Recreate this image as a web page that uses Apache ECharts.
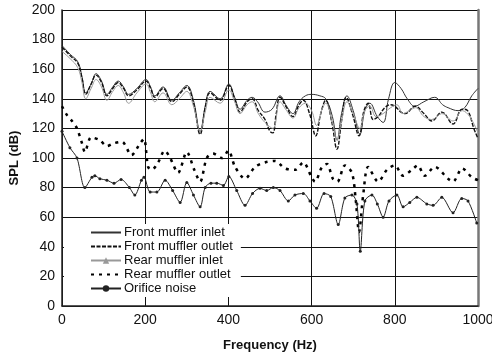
<!DOCTYPE html>
<html>
<head>
<meta charset="utf-8">
<script src="https://cdn.jsdelivr.net/npm/echarts@6/dist/echarts.min.js"></script>
<style>
  html, body { margin: 0; padding: 0; background: #fff; }
  #chart { width: 492px; height: 353px; }
</style>
</head>
<body>
<div id="chart"></div>
<script>
// [frequency (Hz), SPL (dB)]
const frontInlet = [[0,176],[20,170],[38,165],[48,155],[57,144],[70,150],[82,157],[95,152],[108,143],[122,148],[135,152],[148,148],[160,143],[180,147],[202,153],[213,148],[223,142],[243,148],[264,139],[282,144],[300,149],[316,139],[332,118],[345,136],[356,145],[380,140],[401,150],[415,141],[428,133],[445,139],[457,141],[470,138],[488,131],[505,133],[524,142],[540,135],[555,130],[570,138],[585,142],[600,143],[620,142],[634,140],[650,128],[661,112],[672,130],[685,142],[700,132],[716,116],[728,132],[740,137],[758,128],[772,124],[785,140],[800,151],[815,147],[830,140],[848,135],[870,138],[896,141],[915,136],[928,134],[952,132],[968,134],[985,142],[1000,147]]
const frontOutlet = [[0,175],[20,169],[38,164],[48,154],[57,143],[70,150],[82,156],[95,151],[108,142],[122,147],[135,151],[148,147],[160,142],[180,146],[202,152],[213,147],[223,141],[243,147],[264,138],[282,143],[300,148],[316,137],[332,116],[345,135],[356,144],[380,139],[401,149],[415,140],[428,131],[445,138],[457,140],[472,132],[488,126],[500,118],[507,117],[515,130],[524,141],[540,134],[555,128],[570,136],[580,139],[595,130],[610,115],[622,130],[634,139],[648,125],[661,106],[672,125],[683,141],[698,130],[714,115],[726,132],[736,137],[748,126],[760,128],[776,134],[790,136],[800,135],[815,131],[825,130],[849,135],[870,130],[889,125],[913,131],[940,123],[962,133],[975,132],[990,120],[1000,113]]
const rearInlet = [[0,172],[20,167],[38,161],[48,151],[57,140],[70,147],[82,153],[95,148],[108,139],[122,145],[135,149],[148,144],[160,137],[180,144],[202,150],[213,144],[223,138],[243,144],[264,136],[282,140],[300,145],[316,135],[332,118],[345,132],[356,141],[380,137],[401,146],[415,138],[428,130],[445,136],[457,138],[472,130],[488,124],[507,120],[524,138],[540,132],[555,127],[570,134],[585,137],[600,132],[612,122],[624,132],[634,137],[650,124],[661,112],[672,125],[685,138],[700,130],[716,120],[728,132],[740,135],[755,128],[772,130],[790,134],[805,136],[820,130],[835,132],[850,134],[870,128],[889,126],[913,130],[940,125],[962,132],[980,128],[1000,117]]
const rearOutlet = [[0,135],[12,129],[24,125],[36,120],[48,110],[55,104],[70,114],[91,112],[108,108],[125,110],[144,111],[167,102],[188,110],[197,113],[207,94],[216,92],[231,97],[247,105],[260,100],[279,90],[300,104],[318,92],[332,84],[348,100],[363,103],[385,100],[400,105],[416,94],[440,86],[464,94],[488,97],[512,98],[536,93],[560,92],[580,97],[600,87],[608,84],[625,94],[637,96],[651,86],[662,84],[680,95],[697,90],[706,72],[714,50],[724,75],[736,94],[760,84],[781,92],[800,95],[820,88],[841,92],[855,95],[872,88],[896,94],[928,86],[940,84],[962,93],[985,87],[1000,85]]
const orificeNoise = [[0,118],[19,107],[36,100],[55,80],[72,87],[79,88],[91,86],[108,85],[125,83],[142,85.5],[162,80],[175,75],[191,85],[197,87],[212,77],[228,77],[248,85],[266,78],[284,70],[300,83.5],[316,75],[332,67],[344,80],[358,83],[372,83],[388,81.5],[401,87.5],[420,78],[440,68],[458,76],[476,79.5],[492,78],[508,80],[524,78],[544,71],[560,75],[580,76],[596,71],[612,66],[630,76],[646,74],[664,55],[680,73],[697,75],[709,69],[717,37],[728,71],[745,75],[758,69],[772,60],[786,71],[805,75],[820,67],[836,70],[853,73.4],[877,69],[892,68],[913,73.4],[940,63],[961,72.7],[976,71],[997,56]]

const seriesNames = ['Front muffler inlet', 'Front muffler outlet', 'Rear muffler inlet', 'Rear muffler outlet', 'Orifice noise']

const font = 'Liberation Sans, Arial, sans-serif'
const chart = echarts.init(document.getElementById('chart'))

const line = (name, data, lineStyle, extra = {}) => ({
  name,
  type: 'line',
  data,
  smooth: 0.4,
  symbol: 'none',
  lineStyle,
  itemStyle: { color: lineStyle.color },
  z: 3,
  ...extra,
})

const noMark = { opacity: 0 }

chart.setOption({
  animation: false,
  grid: { left: 62, right: 14, top: 10, bottom: 47, outerBoundsMode: 'none', containLabel: false },
  legend: {
    orient: 'vertical',
    left: 64,
    top: 224,
    padding: [2, 8, 2, 26],
    itemGap: 1,
    itemWidth: 30,
    itemHeight: 8,
    backgroundColor: '#fff',
    data: [
      { name: seriesNames[0], itemStyle: noMark },
      { name: seriesNames[1], itemStyle: noMark },
      { name: seriesNames[2] },
      { name: seriesNames[3], itemStyle: noMark },
      { name: seriesNames[4] },
    ],
    textStyle: { fontFamily: font, fontSize: 13, color: '#111', padding: [0, 0, 0, -2] },
    z: 5,
  },
  xAxis: {
    type: 'value',
    min: 0,
    max: 1000,
    interval: 200,
    name: 'Frequency (Hz)',
    nameLocation: 'middle',
    nameGap: 33,
    nameTextStyle: { fontFamily: font, fontSize: 13, fontWeight: 'bold', color: '#111' },
    axisLine: { lineStyle: { color: '#222', width: 1.5 } },
    axisTick: { show: false },
    axisLabel: { fontFamily: font, fontSize: 14, color: '#111', margin: 7, formatter: (v) => String(v) },
    splitLine: { lineStyle: { color: '#111', width: 1 } },
  },
  yAxis: [
    {
      type: 'value',
      min: 0,
      max: 200,
      interval: 20,
      name: 'SPL (dB)',
      nameLocation: 'middle',
      nameGap: 40,
      nameTextStyle: { fontFamily: font, fontSize: 13, fontWeight: 'bold', color: '#111' },
      axisLine: { show: true, lineStyle: { color: '#222', width: 1.5 } },
      axisTick: { show: false },
      axisLabel: { fontFamily: font, fontSize: 14, color: '#111', margin: 7 },
      splitLine: { lineStyle: { color: '#111', width: 1 } },
    },
    {
      type: 'value',
      min: 0,
      max: 200,
      interval: 20,
      position: 'right',
      axisLine: { show: true, lineStyle: { color: '#777', width: 2.5 } },
      axisTick: { show: false },
      axisLabel: { show: false },
      splitLine: { show: false },
    },
  ],
  series: [
    line(seriesNames[0], frontInlet, { color: '#333', width: 1 }),
    line(seriesNames[1], frontOutlet, { color: '#111', width: 1.4, type: [4, 1.5] }),
    line(seriesNames[2], rearInlet, { color: '#999', width: 1 }, { symbol: 'triangle', symbolSize: 3, showSymbol: false }),
    line(seriesNames[3], rearOutlet, { color: '#000', width: 2.5, type: [3, 5] }, { smooth: 0.3 }),
    line(seriesNames[4], orificeNoise, { color: '#222', width: 1 }, { symbol: 'circle', symbolSize: 3, showSymbol: true, smooth: 0.3 }),
  ],
})
</script>
</body>
</html>
